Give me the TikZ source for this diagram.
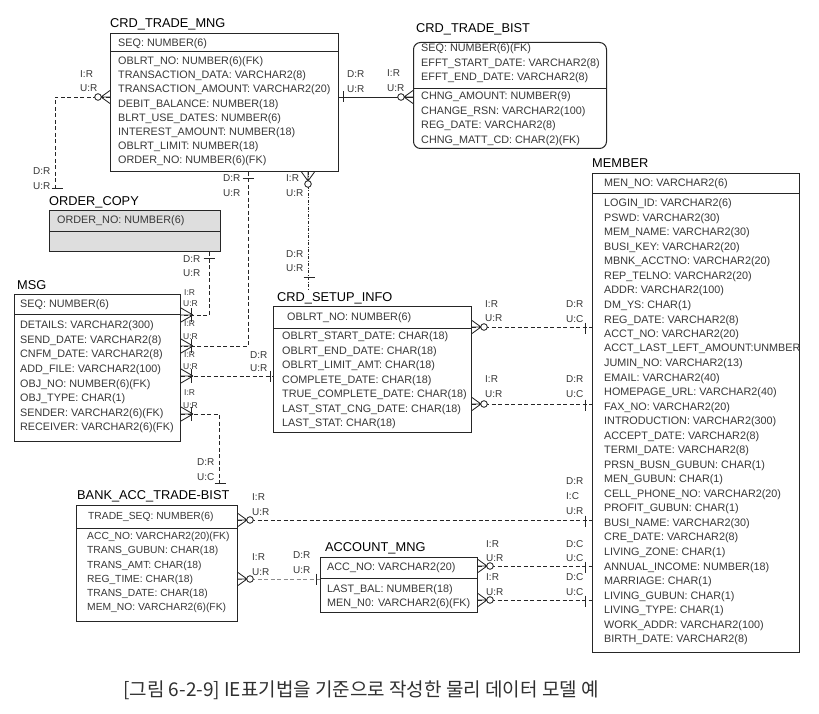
\documentclass[tikz,border=0pt]{standalone}
\usepackage{fontspec}
\setmainfont{Liberation Sans}
\newfontfamily\krfont{Noto Sans CJK KR}
\definecolor{linec}{HTML}{262626}
\definecolor{txtc}{HTML}{383838}
\definecolor{grayfill}{HTML}{DEDEDE}
\definecolor{capc}{HTML}{303030}
\definecolor{relgray}{HTML}{8C8C8C}
\tikzset{
  ent/.style={draw=linec, line width=1pt, inner sep=0pt, anchor=north west},
  sepl/.style={draw=linec, line width=1pt},
  attr/.style={font=\fontsize{10.8}{12}\selectfont, text=txtc, anchor=west, inner sep=0pt},
  attrsm/.style={font=\fontsize{10.3}{12}\selectfont, text=txtc, anchor=west, inner sep=0pt},
  ttl/.style={font=\fontsize{12.8}{14}\selectfont, text=black, anchor=west, inner sep=0pt},
  lbl/.style={font=\fontsize{10}{11}\selectfont, text=txtc, anchor=west, inner sep=0pt},
  slbl/.style={font=\fontsize{8.5}{9}\selectfont, text=txtc, anchor=west, inner sep=0pt},
  rel/.style={draw=linec, line width=0.8pt, dash pattern=on 4pt off 2.5pt},
  idrel/.style={draw=linec, line width=0.9pt},
  dashdotrel/.style={draw=linec, line width=0.8pt, dash pattern=on 3pt off 1.5pt on 1pt off 1.5pt},
  footl/.style={draw=linec, line width=0.85pt, solid},
  footO/.pic={\draw[footl] (0,-6.5) -- (9,0) (0,6.5) -- (9,0) (0,0) -- (9,0);
              \draw[footl, fill=white] (12,0) circle (3.3);},
  footI/.pic={\draw[footl] (0,-7) -- (12,0) (0,7) -- (12,0) (0,0) -- (12,0);
              \draw[footl] (10,-7) -- (10,7);},
  onebar/.pic={\draw[footl] (0,-5.5) -- (0,5.5);},
}
\newcommand\attrlist[6]{% style, prefix, x, y0, step, list
  \foreach \atxt [count=\i] in {#6} {\node[#1] (#2\i) at (#3,{#4+(\i-1)*#5}) {\atxt};}
}
\begin{document}
\begin{tikzpicture}[x=1pt,y=-1pt]
\useasboundingbox (0,0) rectangle (819,714);
\fill[white] (0,0) rectangle (819,714);

% ---------- CRD_TRADE_MNG
\node[ttl] (mngT) at (110,24) {CRD\_TRADE\_MNG};
\node[ent, minimum width=228pt, minimum height=138pt] (mng) at (110,33) {};
\draw[sepl] (mng.west |- 0,52) -- (mng.east |- 0,52);
\node[attr] (mngK1) at (118,43.5) {SEQ: NUMBER(6)};
\attrlist{attr}{mngA}{118}{62}{14.1}{OBLRT\_NO: NUMBER(6)(FK), TRANSACTION\_DATA: VARCHAR2(8), TRANSACTION\_AMOUNT: VARCHAR2(20), DEBIT\_BALANCE: NUMBER(18), BLRT\_USE\_DATES: NUMBER(6), INTEREST\_AMOUNT: NUMBER(18), OBLRT\_LIMIT: NUMBER(18), ORDER\_NO: NUMBER(6)(FK)}

% ---------- CRD_TRADE_BIST
\node[ttl] (bistT) at (416,29) {CRD\_TRADE\_BIST};
\node[ent, rounded corners=7pt, minimum width=193pt, minimum height=106pt] (bist) at (413,42) {};
\draw[sepl] (bist.west |- 0,89) -- (bist.east |- 0,89);
\attrlist{attr}{bistK}{421}{49}{14.5}{SEQ: NUMBER(6)(FK), EFFT\_START\_DATE: VARCHAR2(8), EFFT\_END\_DATE: VARCHAR2(8)}
\attrlist{attr}{bistA}{421}{97}{14.6}{CHNG\_AMOUNT: NUMBER(9), CHANGE\_RSN: VARCHAR2(100), REG\_DATE: VARCHAR2(8), CHNG\_MATT\_CD: CHAR(2)(FK)}

% ---------- ORDER_COPY
\node[ttl] (ocopyT) at (49,202) {ORDER\_COPY};
\node[ent, fill=grayfill, minimum width=171pt, minimum height=41pt] (ocopy) at (49,210) {};
\draw[sepl] (ocopy.west |- 0,231) -- (ocopy.east |- 0,231);
\node[attr] (ocopyK1) at (57,221) {ORDER\_NO: NUMBER(6)};

% ---------- MSG
\node[ttl] (msgT) at (17,285) {MSG};
\node[ent, minimum width=166pt, minimum height=147pt] (msg) at (14,294) {};
\draw[sepl] (msg.west |- 0,314) -- (msg.east |- 0,314);
\node[attr] (msgK1) at (20,305) {SEQ: NUMBER(6)};
\attrlist{attr}{msgA}{20}{326}{14.6}{DETAILS: VARCHAR2(300), SEND\_DATE: VARCHAR2(8), CNFM\_DATE: VARCHAR2(8), ADD\_FILE: VARCHAR2(100), OBJ\_NO: NUMBER(6)(FK), OBJ\_TYPE: CHAR(1), SENDER: VARCHAR2(6)(FK), RECEIVER: VARCHAR2(6)(FK)}

% ---------- CRD_SETUP_INFO
\node[ttl] (setupT) at (277,298) {CRD\_SETUP\_INFO};
\node[ent, minimum width=198pt, minimum height=126pt] (setup) at (273,306) {};
\draw[sepl] (setup.west |- 0,328) -- (setup.east |- 0,328);
\node[attr] (setupK1) at (287,318) {OBLRT\_NO: NUMBER(6)};
\attrlist{attr}{setupA}{282}{337}{14.5}{OBLRT\_START\_DATE: CHAR(18), OBLRT\_END\_DATE: CHAR(18), OBLRT\_LIMIT\_AMT: CHAR(18), COMPLETE\_DATE: CHAR(18), TRUE\_COMPLETE\_DATE: CHAR(18), LAST\_STAT\_CNG\_DATE: CHAR(18), LAST\_STAT: CHAR(18)}

% ---------- MEMBER
\node[ttl] (memberT) at (592,163) {MEMBER};
\node[ent, minimum width=207pt, minimum height=479pt] (member) at (592,173) {};
\draw[sepl] (member.west |- 0,194) -- (member.east |- 0,194);
\node[attr] (memberK1) at (604,183.5) {MEN\_NO: VARCHAR2(6)};
\attrlist{attr}{memberA}{604}{204}{14.53}{LOGIN\_ID: VARCHAR2(6), PSWD: VARCHAR2(30), MEM\_NAME: VARCHAR2(30), BUSI\_KEY: VARCHAR2(20), MBNK\_ACCTNO: VARCHAR2(20), REP\_TELNO: VARCHAR2(20), ADDR: VARCHAR2(100), DM\_YS: CHAR(1), REG\_DATE: VARCHAR2(8), ACCT\_NO: VARCHAR2(20), ACCT\_LAST\_LEFT\_AMOUNT:UNMBER, JUMIN\_NO: VARCHAR2(13), EMAIL: VARCHAR2(40), HOMEPAGE\_URL: VARCHAR2(40), FAX\_NO: VARCHAR2(20), INTRODUCTION: VARCHAR2(300), ACCEPT\_DATE: VARCHAR2(8), TERMI\_DATE: VARCHAR2(8), PRSN\_BUSN\_GUBUN: CHAR(1), MEN\_GUBUN: CHAR(1), CELL\_PHONE\_NO: VARCHAR2(20), PROFIT\_GUBUN: CHAR(1), BUSI\_NAME: VARCHAR2(30), CRE\_DATE: VARCHAR2(8), LIVING\_ZONE: CHAR(1), ANNUAL\_INCOME: NUMBER(18), MARRIAGE: CHAR(1), LIVING\_GUBUN: CHAR(1), LIVING\_TYPE: CHAR(1), WORK\_ADDR: VARCHAR2(100), BIRTH\_DATE: VARCHAR2(8)}

% ---------- BANK_ACC_TRADE-BIST
\node[ttl] (bankT) at (77,496) {BANK\_ACC\_TRADE-BIST};
\node[ent, minimum width=161pt, minimum height=116pt] (bank) at (76,505) {};
\draw[sepl] (bank.west |- 0,528) -- (bank.east |- 0,528);
\node[attrsm] (bankK1) at (88,517) {TRADE\_SEQ: NUMBER(6)};
\attrlist{attrsm}{bankA}{87}{537}{14.2}{ACC\_NO: VARCHAR2(20)(FK), TRANS\_GUBUN: CHAR(18), TRANS\_AMT: CHAR(18), REG\_TIME: CHAR(18), TRANS\_DATE: CHAR(18), MEM\_NO: VARCHAR2(6)(FK)}

% ---------- ACCOUNT_MNG
\node[ttl] (accT) at (325,548) {ACCOUNT\_MNG};
\node[ent, minimum width=157pt, minimum height=55pt] (account) at (320,557) {};
\draw[sepl] (account.west |- 0,578) -- (account.east |- 0,578);
\node[attr] (accK1) at (327,568) {ACC\_NO: VARCHAR2(20)};
\attrlist{attr}{accA}{327}{590}{13.5}{LAST\_BAL: NUMBER(18), MEN\_N0: VARCHAR2(6)(FK)}

% ================= connectors
% C1 CRD_TRADE_MNG -- ORDER_COPY
\coordinate (c1a) at (mng.west |- 0,97);
\coordinate (c1b) at (55,190);
\draw[rel] (c1a) -| (c1b);
\pic[rotate=180] at (c1a) {footO};
\pic[rotate=90] at (57,188) {onebar};
\node[lbl] (l1a) at (80,74) {I:R};
\node[lbl] (l1b) at (80,88) {U:R};
\node[lbl] (l1c) at (33,171) {D:R};
\node[lbl] (l1d) at (33,186) {U:R};

% C2 CRD_TRADE_MNG -- CRD_TRADE_BIST
\coordinate (c2a) at (mng.east |- 0,97);
\coordinate (c2b) at (bist.west |- 0,97);
\draw[idrel] (c2a) -- (c2b);
\pic at (343,97) {onebar};
\pic[rotate=180] at (c2b) {footO};
\node[lbl] (l2a) at (347,74) {D:R};
\node[lbl] (l2b) at (347,89) {U:R};
\node[lbl] (l2c) at (387,73) {I:R};
\node[lbl] (l2d) at (387,88) {U:R};

% C3 ORDER_COPY -- MSG
\coordinate (c3a) at (209,0 |- ocopy.south);
\coordinate (c3b) at (msg.east |- 0,315);
\draw[rel] (c3a) |- (c3b);
\pic[rotate=90] at (209,258) {onebar};
\pic at (c3b) {footI};
\node[lbl] (l3a) at (183,259) {D:R};
\node[lbl] (l3b) at (183,273) {U:R};
\node[slbl] (l3c) at (184,293) {I:R};
\node[slbl] (l3d) at (183,304) {U:R};

% C4 CRD_TRADE_MNG -- MSG
\coordinate (c4a) at (248,0 |- mng.south);
\coordinate (c4b) at (msg.east |- 0,346);
\draw[rel] (c4a) |- (c4b);
\pic[rotate=90] at (248,178) {onebar};
\pic at (c4b) {footI};
\node[lbl] (l4a) at (223,178) {D:R};
\node[lbl] (l4b) at (223,193) {U:R};
\node[slbl] (l4c) at (184,324) {I:R};
\node[slbl] (l4d) at (183,337) {U:R};

% C5 MSG -- CRD_SETUP_INFO
\coordinate (c5a) at (msg.east |- 0,376);
\coordinate (c5b) at (setup.west |- 0,376);
\draw[rel] (c5a) -- (c5b);
\pic at (c5a) {footI};
\pic at (270,376) {onebar};
\node[slbl] (l5a) at (184,355) {I:R};
\node[slbl] (l5b) at (183,367) {U:R};
\node[lbl] (l5c) at (250,355) {D:R};
\node[lbl] (l5d) at (250,368) {U:R};

% C6 MSG -- BANK_ACC_TRADE-BIST
\coordinate (c6a) at (msg.east |- 0,414);
\coordinate (c6b) at (219,486);
\draw[rel] (c6a) -| (c6b);
\pic at (c6a) {footI};
\pic[rotate=90] at (220,483) {onebar};
\node[slbl] (l6a) at (184,393) {I:R};
\node[slbl] (l6b) at (183,406) {U:R};
\node[lbl] (l6c) at (197,462) {D:R};
\node[lbl] (l6d) at (197,477) {U:C};

% C7 CRD_TRADE_MNG -- CRD_SETUP_INFO
\coordinate (c7a) at (308,0 |- mng.south);
\coordinate (c7b) at (308,289);
\draw[dashdotrel] (c7a) -- (c7b);
\pic[rotate=-90] at (c7a) {footO};
\pic[rotate=90] at (309,277) {onebar};
\node[lbl] (l7a) at (286,178) {I:R};
\node[lbl] (l7b) at (286,193) {U:R};
\node[lbl] (l7c) at (286,254) {D:R};
\node[lbl] (l7d) at (286,268) {U:R};

% C8, C9 CRD_SETUP_INFO -- MEMBER
\coordinate (c8a) at (setup.east |- 0,327);
\coordinate (c8b) at (member.west |- 0,327);
\draw[rel] (c8a) -- (c8b);
\pic at (c8a) {footO};
\pic at (585,328) {onebar};
\node[lbl] (l8a) at (485,304) {I:R};
\node[lbl] (l8b) at (485,318) {U:R};
\node[lbl] (l8c) at (566,304) {D:R};
\node[lbl] (l8d) at (566,319) {U:C};

\coordinate (c9a) at (setup.east |- 0,404);
\coordinate (c9b) at (member.west |- 0,404);
\draw[rel] (c9a) -- (c9b);
\pic at (c9a) {footO};
\pic at (585,405) {onebar};
\node[lbl] (l9a) at (485,379) {I:R};
\node[lbl] (l9b) at (485,394) {U:R};
\node[lbl] (l9c) at (566,379) {D:R};
\node[lbl] (l9d) at (566,394) {U:C};

% C10 BANK -- MEMBER
\coordinate (c10a) at (bank.east |- 0,520);
\coordinate (c10b) at (member.west |- 0,520);
\draw[rel] (c10a) -- (c10b);
\pic at (c10a) {footO};
\pic at (585,521) {onebar};
\node[lbl] (l10a) at (252,497) {I:R};
\node[lbl] (l10b) at (252,512) {U:R};
\node[lbl] (l10c) at (566,481) {D:R};
\node[lbl] (l10d) at (566,496) {I:C};
\node[lbl] (l10e) at (566,511) {U:R};

% C11 BANK -- ACCOUNT_MNG
\coordinate (c11a) at (bank.east |- 0,579);
\coordinate (c11b) at (account.west |- 0,579);
\draw[rel, draw=relgray] (c11a) -- (c11b);
\pic at (c11a) {footO};
\pic at (316,579) {onebar};
\node[lbl] (l11a) at (252,557) {I:R};
\node[lbl] (l11b) at (252,572) {U:R};
\node[lbl] (l11c) at (293,555) {D:R};
\node[lbl] (l11d) at (293,570) {U:R};

% C12, C13 ACCOUNT_MNG -- MEMBER
\coordinate (c12a) at (account.east |- 0,566);
\coordinate (c12b) at (member.west |- 0,566);
\draw[rel] (c12a) -- (c12b);
\pic at (c12a) {footO};
\pic at (585,567) {onebar};
\node[lbl] (l12a) at (486,544) {I:R};
\node[lbl] (l12b) at (486,558) {U:R};
\node[lbl] (l12c) at (566,544) {D:C};
\node[lbl] (l12d) at (566,558) {U:C};

\coordinate (c13a) at (account.east |- 0,600);
\coordinate (c13b) at (member.west |- 0,600);
\draw[rel] (c13a) -- (c13b);
\pic at (c13a) {footO};
\pic at (585,601) {onebar};
\node[lbl] (l13a) at (486,577) {I:R};
\node[lbl] (l13b) at (486,592) {U:R};
\node[lbl] (l13c) at (566,577) {D:C};
\node[lbl] (l13d) at (566,592) {U:C};

% caption
\node[font=\krfont\fontsize{19}{22}\selectfont, text=capc, inner sep=0pt] (cap) at (361,690) {[그림 6-2-9] IE표기법을 기준으로 작성한 물리 데이터 모델 예};
\end{tikzpicture}
\end{document}
